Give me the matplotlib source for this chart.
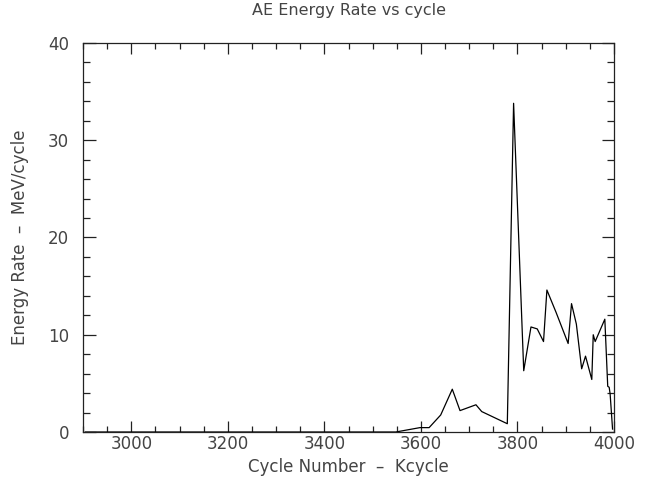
import matplotlib
matplotlib.use("Agg")
import matplotlib.pyplot as plt
from matplotlib.ticker import MultipleLocator

# values
cycles = [2905, 2995, 3270, 3400, 3548, 3598, 3617, 3641, 3665, 3681,
          3714, 3726, 3779, 3792, 3813, 3828, 3841, 3854, 3861, 3880,
          3905, 3912, 3922, 3933, 3941, 3954, 3957, 3961, 3981, 3987,
          3990, 3992, 3997]
rates = [0, 0, 0, 0, 0, 0.45, 0.45, 1.75, 4.4, 2.2,
         2.8, 2.1, 0.85, 33.8, 6.3, 10.8, 10.6, 9.3, 14.6, 12.3,
         9.1, 13.2, 11.1, 6.5, 7.8, 5.4, 10.0, 9.3, 11.6, 4.7,
         4.6, 3.9, 0.3]

xticks = [3000, 3200, 3400, 3600, 3800, 4000]
yticks = [0, 10, 20, 30, 40]

txt = "#444444"

fig = plt.figure(figsize=(6.47, 4.83), dpi=100)
ax = fig.add_axes([83/647, 51/483, 531/647, 389/483])

ax.plot(cycles, rates, color="black", linewidth=0.9)

ax.set_xlim(2900, 4000)
ax.set_ylim(0, 40)
ax.set_xticks(xticks)
ax.set_yticks(yticks)
ax.xaxis.set_minor_locator(MultipleLocator(50))
ax.yaxis.set_minor_locator(MultipleLocator(2))

ax.tick_params(which="both", direction="in", top=True, right=True,
               colors="#222222", labelcolor=txt, labelsize=12, width=0.9)
ax.tick_params(axis="x", which="major", length=8, pad=2)
ax.tick_params(axis="x", which="minor", length=4)
ax.tick_params(axis="y", which="major", length=9, pad=10)
ax.tick_params(axis="y", which="minor", length=5)
for s in ax.spines.values():
    s.set_linewidth(0.9)
    s.set_color("#222222")

ax.set_title("AE Energy Rate vs cycle", fontsize=11.5, color=txt, pad=20)
ax.set_xlabel("Cycle Number  \u2013  Kcycle", fontsize=12, color=txt, labelpad=4)
ax.set_ylabel("Energy Rate  \u2013  MeV/cycle", fontsize=12, color=txt, labelpad=14)

fig.savefig("out.png", dpi=100)
